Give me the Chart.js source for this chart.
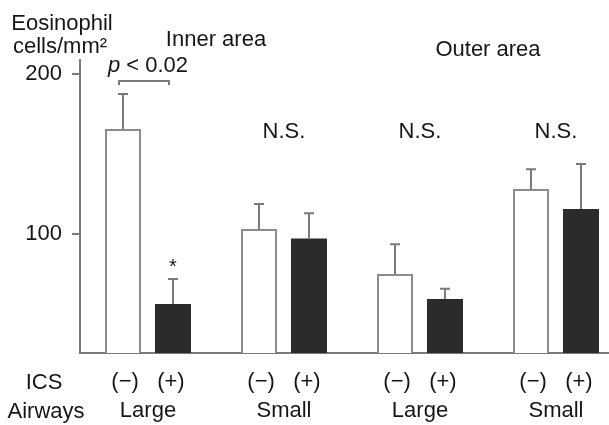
<!DOCTYPE html>
<html>
<head>
<meta charset="utf-8">
<script src="https://cdn.jsdelivr.net/npm/chart.js@4"></script>
<style>
  html, body { margin: 0; padding: 0; background: #fff; overflow: hidden; }
  #wrap { width: 624px; height: 425px; }
</style>
</head>
<body>
<div id="wrap"><canvas id="eosChart"></canvas></div>
<script>
// values (cells/mm2)
var airways = ['Large', 'Small', 'Large', 'Small'];
var areas = ['Inner area', 'Outer area'];
var icsMinus = [165.6, 103.1, 75.0, 128.1];
var icsPlus = [56.3, 97.1, 59.4, 115.6];
var icsMinusErr = [21.9, 15.6, 18.6, 12.3];
var icsPlusErr = [15.6, 15.8, 6.4, 28.1];
var groupNotes = ['', 'N.S.', 'N.S.', 'N.S.'];
var yTicks = [100, 200];

var FONT = "'Liberation Sans', Arial, sans-serif";
var GREY = '#7a7a7a';
var INK = '#161616';

// upward error whiskers
var errorBars = {
    id: 'errorBars',
    afterDatasetsDraw: function(chart) {
        var ctx = chart.ctx;
        var y = chart.scales.y;
        var errs = [icsMinusErr, icsPlusErr];
        ctx.save();
        ctx.strokeStyle = GREY;
        ctx.lineWidth = 2;
        chart.data.datasets.forEach(function(ds, d) {
            chart.getDatasetMeta(d).data.forEach(function(bar, i) {
                var top = y.getPixelForValue(ds.data[i] + errs[d][i]);
                ctx.beginPath();
                ctx.moveTo(bar.x, bar.y);
                ctx.lineTo(bar.x, top);
                ctx.moveTo(bar.x - 5, top);
                ctx.lineTo(bar.x + 5, top);
                ctx.stroke();
            });
        });
        ctx.restore();
    }
};

// texts and the significance bracket
var notes = {
    id: 'notes',
    afterDraw: function(chart) {
        var ctx = chart.ctx;
        var y = chart.scales.y;
        var m0 = chart.getDatasetMeta(0).data;
        var m1 = chart.getDatasetMeta(1).data;
        ctx.save();
        ctx.fillStyle = INK;
        ctx.font = '22px ' + FONT;
        ctx.textAlign = 'center';
        ctx.textBaseline = 'alphabetic';

        ctx.fillText('Eosinophil', 62, 30);
        ctx.fillText('cells/mm\u00b2', 60, 53);

        var mid = function(i) { return (m0[i].x + m1[i].x) / 2; };
        ctx.fillText(areas[0], (mid(0) + mid(1)) / 2, 46);
        ctx.fillText(areas[1], (mid(2) + mid(3)) / 2, 56);

        groupNotes.forEach(function(t, i) {
            if (t) ctx.fillText(t, mid(i), 138);
        });

        ctx.fillText('ICS', 44, 389);
        ctx.fillText('Airways', 46, 418);

        // asterisk over ICS(+) large inner
        ctx.font = '20px ' + FONT;
        ctx.fillText('*', m1[0].x, y.getPixelForValue(icsPlus[0] + icsPlusErr[0]) - 6);

        // bracket + p value
        var bx0 = m0[0].x - 4, bx1 = m1[0].x - 4, by = 81;
        ctx.strokeStyle = GREY;
        ctx.lineWidth = 2;
        ctx.beginPath();
        ctx.moveTo(bx0, by + 4);
        ctx.lineTo(bx0, by);
        ctx.lineTo(bx1, by);
        ctx.lineTo(bx1, by + 4);
        ctx.stroke();

        ctx.textAlign = 'left';
        ctx.font = 'italic 22px ' + FONT;
        var wp = ctx.measureText('p').width;
        ctx.font = '22px ' + FONT;
        var rest = ' < 0.02';
        var wr = ctx.measureText(rest).width;
        var sx = (bx0 + bx1) / 2 + 4 - (wp + wr) / 2;
        ctx.font = 'italic 22px ' + FONT;
        ctx.fillText('p', sx, 72);
        ctx.font = '22px ' + FONT;
        ctx.fillText(rest, sx + wp, 72);
        ctx.restore();
    }
};

var ctx = document.getElementById('eosChart').getContext('2d');

var chart = new Chart(ctx, {
    type: 'bar',
    data: {
        labels: airways.map(function(a) { return ['(\u2212)   (+)', a]; }),
        datasets: [{
            label: 'ICS (\u2212)',
            data: icsMinus,
            backgroundColor: '#ffffff',
            borderColor: '#8c8c8c',
            borderWidth: 2,
            categoryPercentage: 0.735,
            barPercentage: 0.72
        }, {
            label: 'ICS (+)',
            data: icsPlus,
            backgroundColor: '#2b2b2b',
            borderWidth: 0,
            categoryPercentage: 0.735,
            barPercentage: 0.72
        }]
    },
    options: {
        responsive: true,
        maintainAspectRatio: false,
        animation: false,
        layout: {
            padding: { top: 60, left: 0, right: 0, bottom: 0 }
        },
        scales: {
            x: {
                grid: { display: false },
                border: { display: true, color: GREY, width: 2 },
                ticks: {
                    color: INK,
                    padding: 7,
                    maxRotation: 0,
                    autoSkip: false,
                    font: { family: FONT, size: 22, lineHeight: 1.3 }
                },
                afterFit: function(axis) { axis.height = 72; }
            },
            y: {
                min: 25.6,
                max: 208.75,
                afterBuildTicks: function(axis) {
                    axis.ticks = yTicks.map(function(v) { return { value: v }; });
                },
                grid: {
                    drawOnChartArea: false,
                    color: GREY,
                    lineWidth: 2,
                    tickLength: 8
                },
                border: { display: true, color: GREY, width: 2 },
                ticks: {
                    color: INK,
                    padding: 10,
                    font: { family: FONT, size: 22 }
                },
                afterFit: function(axis) { axis.width = 80; }
            }
        },
        plugins: {
            legend: { display: false },
            tooltip: { enabled: false }
        }
    },
    plugins: [errorBars, notes]
});
</script>
</body>
</html>
